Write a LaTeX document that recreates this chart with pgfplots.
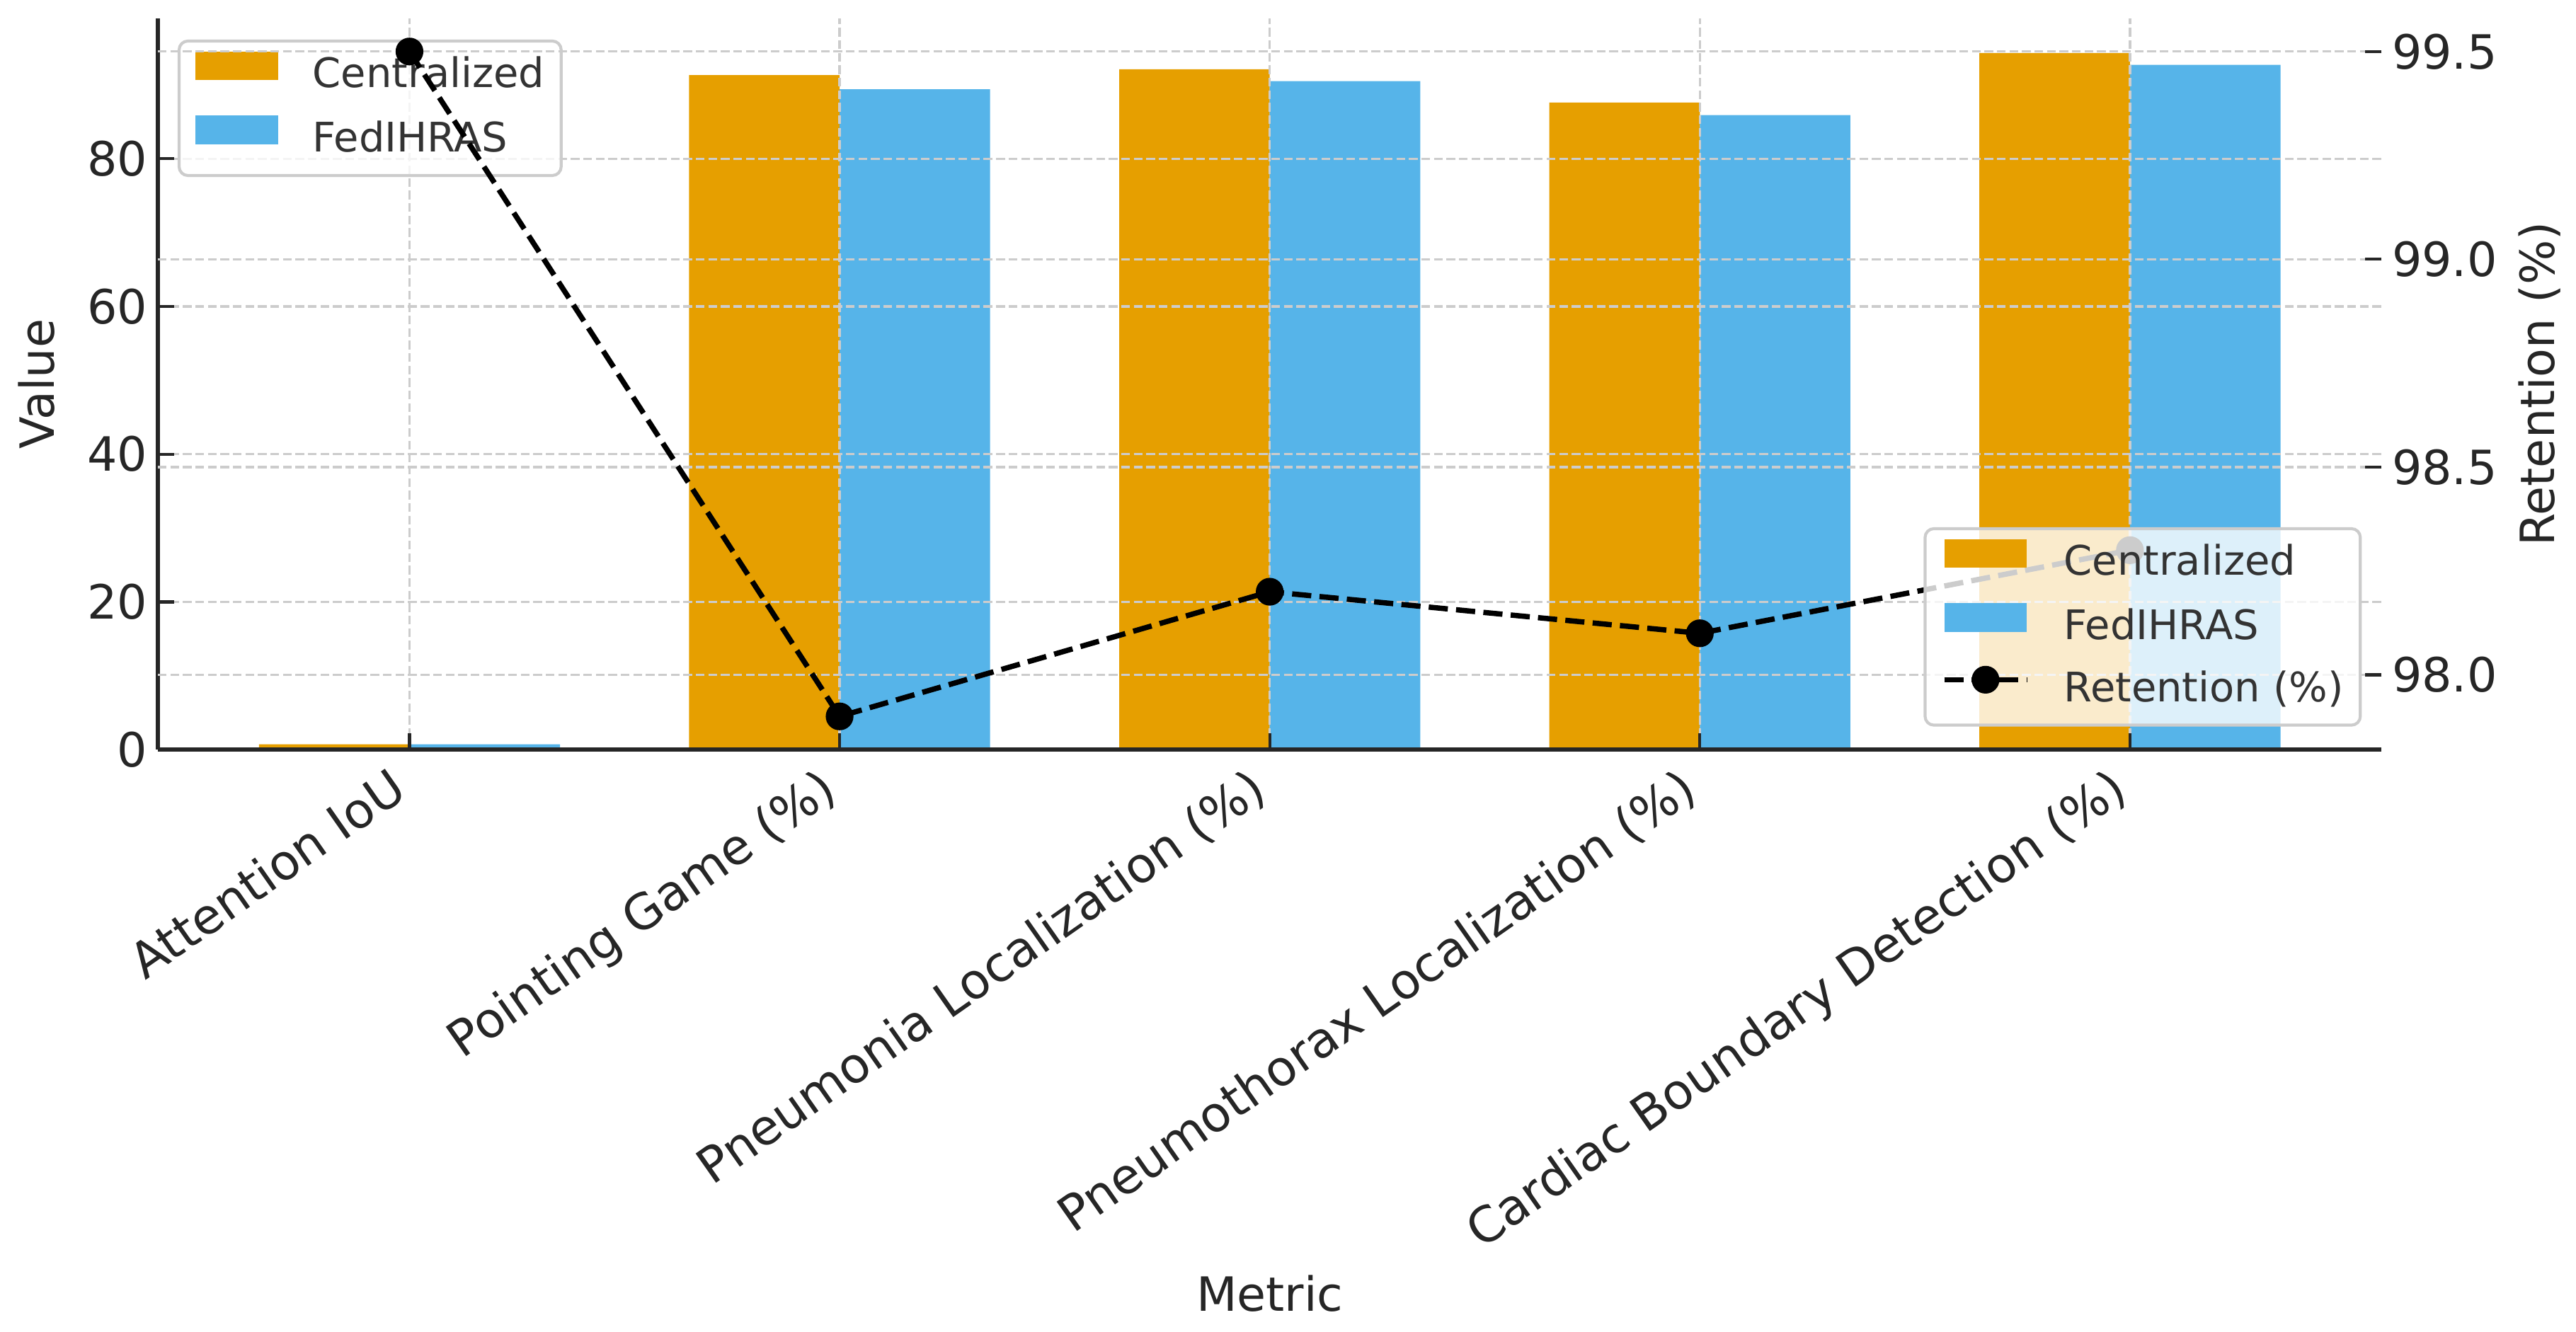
\documentclass[border=0pt]{standalone}
\usepackage{pgfplots}
\pgfplotsset{compat=1.18}
\usepackage{fontspec}
\setmainfont{DejaVu Sans}

\definecolor{cOrange}{HTML}{E69F00}
\definecolor{cBlue}{HTML}{56B4E9}
\definecolor{gridc}{HTML}{CCCCCC}
\definecolor{spine}{HTML}{262626}
\definecolor{legtext}{HTML}{333333}

\pgfplotsset{
  common/.style={
    scale only axis, width=753.6pt, height=247.9pt,
    xmin=-0.585, xmax=4.585,
    tick align=inside, major tick length=5.6pt,
    every tick/.style={spine, line width=1pt},
    tick label style={font=\fontsize{16}{19}\selectfont, text=spine},
    label style={font=\fontsize{16}{19}\selectfont, text=spine},
    /pgf/number format/assume math mode=true,
    grid style={gridc, line width=0.8pt, dash pattern=on 2.96pt off 1.28pt},
    legend cell align=left,
    legend style={draw=gridc, line width=1pt, rounded corners=3pt,
      fill=white, fill opacity=0.8, draw opacity=1, text opacity=1,
      font=\fontsize{13.8}{16.5}\selectfont, text=legtext,
      inner xsep=5.6pt, inner ysep=3.5pt, row sep=5pt,
      nodes={inner xsep=0pt, inner ysep=1.5pt, text height=10pt, text depth=3pt, text=legtext},
      /tikz/every odd column/.append style={column sep=11.7pt}},
  },
  patch/.style={legend image code/.code={
    \fill[##1, sharp corners, fill opacity=1, draw=none] (0pt,-1pt) rectangle (28pt,8.8pt);}},
  dashleg/.style={legend image code/.code={
    \draw[mark repeat=2, mark phase=2, sharp corners, fill opacity=1, ##1]
      plot coordinates {(0pt,3.9pt) (14pt,3.9pt) (28pt,3.9pt)};}},
}

\begin{document}
\begin{tikzpicture}
\path[use as bounding box] (-53.5pt,-197.2pt) rectangle (819.5pt,254.1pt);

% bars on the left axis
\begin{axis}[common,
  axis on top,
  axis x line*=bottom, axis y line*=left,
  axis line style={spine, line width=1.4pt},
  ymin=0, ymax=99.0,
  ytick={0,20,40,60,80},
  xtick={0,1,2,3,4},
  xticklabels={Attention IoU, Pointing Game (\%), Pneumonia Localization (\%),
    Pneumothorax Localization (\%), Cardiac Boundary Detection (\%)},
  xticklabel style={font=\fontsize{16.6}{19.5}\selectfont, rotate=35, anchor=north east,
    inner sep=0pt, text height=0.76em, text depth=0.24em, xshift=-9pt, yshift=-5pt},
  xmajorgrids, ymajorgrids,
  xlabel={Metric}, ylabel={Value},
  xlabel style={at={(axis description cs:0.5,-0.744)}, anchor=center},
  ylabel style={at={(axis description cs:-0.0547,0.5)}, anchor=center},
  legend style={at={(0,1)}, anchor=north west, xshift=6.7pt, yshift=-7.2pt},
]
\addplot[ybar, bar width=0.35, bar shift=-0.175, fill=cOrange, draw=none, patch]
  coordinates {(0,0.72) (1,91.3) (2,92.1) (3,87.6) (4,94.3)};
\addplot[ybar, bar width=0.35, bar shift=0.175, fill=cBlue, draw=none, patch]
  coordinates {(0,0.716) (1,89.4) (2,90.5) (3,85.9) (4,92.7)};
\legend{Centralized, FedIHRAS}
\end{axis}

% retention on the right axis
\begin{axis}[common,
  axis x line=none, axis y line*=right,
  y axis line style={draw=none},
  ymin=97.82, ymax=99.58,
  ytick={98,98.5,99,99.5},
  yticklabel style={/pgf/number format/.cd, fixed, fixed zerofill, precision=1},
  ymajorgrids,
  ylabel={Retention (\%)},
  ylabel style={at={(axis description cs:1.071,0.5)}, anchor=center, rotate=0},
  legend style={at={(1,0)}, anchor=south east, xshift=-6.7pt, yshift=7.8pt},
]
\addlegendimage{patch, fill=cOrange}
\addlegendimage{patch, fill=cBlue}
\addplot[black, line width=1.8pt, dash pattern=on 6.5pt off 2.8pt,
  mark=*, mark size=3.8pt, mark options={solid, fill=black}, dashleg]
  coordinates {(0,99.5) (1,97.9) (2,98.2) (3,98.1) (4,98.3)};
\legend{Centralized, FedIHRAS, Retention (\%)}
\end{axis}
\end{tikzpicture}
\end{document}
